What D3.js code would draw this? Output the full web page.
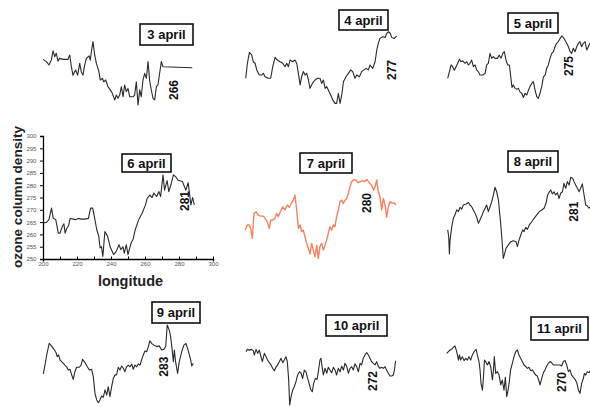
<!DOCTYPE html>
<html><head><meta charset="utf-8">
<script src="https://cdn.jsdelivr.net/npm/d3@7/dist/d3.min.js"></script>
<style>body{margin:0;background:#fff}svg{display:block}</style>
</head><body>
<script>
// ---- data (longitude, ozone column density) ----
const lon3=[200,202.0,203.5,204.9,205.9,206.9,207.8,208.8,209.8,211.8,214.7,215.7,216.7,217.6,219.2,220.4,221.6,222.5,223.5,224.5,225.5,227.1,227.8,228.6,229.4,230.4,231.4,232.9,233.7,234.9,235.7,236.9,238.2,239.6,240.8,242.2,243.1,244.1,245.1,246.1,247.1,248.0,249.0,250.0,251.0,252.9,253.9,254.9,255.9,256.9,257.8,258.8,259.8,260.8,261.8,262.7,263.7,264.7,265.7,266.7,267.6,268.6,269.6,270.6,287.8];
const val3=[269.4,268.5,267.1,269.1,272.9,270.5,271.9,268.7,269.8,269.4,269.4,271.2,266.4,263.0,265.1,263.0,267.8,264.4,263.0,267.1,269.8,270.8,269.1,273.2,276.6,271.2,267.8,264.4,261.0,261.7,260.3,261.0,258.3,257.0,255.6,252.9,254.9,253.6,254.9,258.3,254.2,259.0,256.3,257.6,254.2,254.2,254.9,260.3,250.9,257.0,254.2,261.0,263.7,261.7,268.5,261.0,257.0,253.6,252.9,258.3,259.0,263.7,268.5,266.4,266.0];

const lon4=[200,201.0,202.2,203.5,204.5,205.5,206.5,208.0,209.4,210.4,211.4,213.3,214.7,215.9,217.3,218.6,220.2,221.8,223.1,224.1,225.1,226.1,227.6,229.0,230.0,231.0,232.0,232.9,233.9,234.9,235.9,236.9,237.8,239.2,240.8,242.2,243.7,244.7,245.7,246.7,247.6,248.6,250.0,251.2,252.5,253.5,254.5,255.5,256.5,257.5,259.0,260.4,261.8,262.9,264.3,265.3,266.9,268.2,269.6,270.8,272.2,273.1,274.7,276.1,277.1,278.0,279.0,280.6,282.0,283.0,284.0,285.0,285.9,287.5,288.8];
const val4=[260.1,266.2,270.6,269.6,266.8,266.2,263.5,261.4,261.4,262.1,260.7,260.1,260.1,264.8,268.6,267.5,266.8,266.2,264.8,266.2,264.8,267.5,266.8,267.5,266.2,262.1,257.4,260.7,262.8,261.4,262.1,259.4,256.0,258.0,259.4,260.1,260.1,258.0,259.4,256.0,256.7,255.3,253.3,251.3,249.9,249.9,254.0,249.9,253.3,258.7,260.7,262.1,263.5,262.8,260.1,261.4,260.7,262.8,263.5,264.1,263.5,265.5,264.1,266.8,271.6,274.3,276.3,277.0,276.7,278.4,279.0,278.4,276.7,276.3,277.3];

const lon5=[200,201.0,202.0,202.9,203.9,204.9,205.9,206.9,207.8,208.8,210.2,211.2,212.2,213.1,214.1,215.1,216.1,217.1,218.0,219.0,220.6,222.0,222.9,223.9,224.9,225.9,226.9,227.8,229.2,230.4,231.4,232.4,233.3,234.3,235.3,236.3,237.1,237.8,238.6,239.6,240.6,241.6,242.5,243.5,244.5,245.5,246.5,247.5,248.4,249.4,250.4,251.4,252.4,253.3,254.3,255.3,256.3,257.3,258.2,259.2,260.2,261.2,262.2,263.1,264.1,265.1,266.1,267.1,268.0,269.0,270.0,271.0,272.0,272.9,273.9,274.9,275.9,276.9,277.8,278.8,279.8,280.8,281.8,282.7,283.7,285.7];
const val5=[264.2,266.9,269.6,268.9,267.5,268.9,270.3,271.9,270.9,271.3,270.3,270.9,269.6,270.3,271.6,268.9,269.6,267.5,266.9,265.5,265.5,266.2,269.6,270.3,274.3,272.3,273.0,272.3,272.3,273.6,272.3,274.3,275.0,271.6,269.6,269.6,264.8,260.5,261.5,260.1,259.7,260.1,258.7,258.1,256.4,258.1,257.4,259.4,260.8,262.1,262.8,259.4,256.7,256.0,258.1,260.8,264.8,265.5,268.2,269.6,272.3,274.3,275.0,277.0,278.4,279.1,280.4,281.4,280.8,279.7,278.4,277.0,275.0,274.3,276.4,275.0,277.0,278.4,279.1,277.0,278.4,279.1,275.7,277.0,278.4,277.7];

const lon6=[200,202,203.5,205,206,207.5,209,210,211.5,212.3,213,214,215,216,217.8,219,220.7,222.6,224.6,226.7,228,229.2,230.2,231.6,232.8,233.6,234.4,235.2,236.4,238,239.5,241.5,243,244.7,245.8,247,247.8,249,250,251.8,253,254.3,256.3,258.3,260.3,261.3,262.8,264.2,265.2,266.8,268.2,269.2,270.6,271.5,273,274,275.5,276.7,278,279.5,282,284,285.4,287,288,289];
const val6=[264.6,264.9,266,270.7,266.6,266,260.5,260.5,263.5,264.3,260.5,262.5,263.5,266.5,266.2,266,266.5,266.2,266.2,266.5,270.7,270.7,267.3,262,259.2,254.5,255,251,261.2,259.2,255,251.8,253,255.8,253.8,255,252.4,255.8,251.8,256.5,258,262,266,268.6,272,274.7,276,275,276.8,275.4,277.4,275.4,284.2,278,281.9,277.4,280.8,284.2,283.5,282,281.5,278,281,272,275,272];

const lon7=[200,201.4,202.5,203.3,204.3,205.3,206.5,207.8,209.2,210.8,211.8,213.1,214.3,215.1,216.3,217.6,218.6,219.6,220.6,222.2,223.5,224.9,226.1,227.5,228.4,229.4,230.4,231.4,232.4,233.3,234.3,235.3,236.3,237.3,238.2,239.2,240.2,241.2,242.2,243.1,244.1,245.1,246.1,247.1,248.0,249.0,250.0,251.0,252.0,252.9,253.9,254.9,255.9,256.9,257.8,258.8,259.8,260.8,261.8,262.7,263.7,265.3,266.3,267.6,269.2,270.6,271.6,273.1,274.5,275.5,276.5,277.5,278.4,279.4,280.4,281.4,282.4,283.3,284.3,285.3,286.7,287.6,288.8];
const val7=[259.9,262.0,262.0,260.6,256.6,266.7,267.4,266.0,265.6,265.6,264.7,263.3,260.6,264.0,264.0,264.7,266.7,265.4,267.0,269.4,268.1,270.1,269.2,271.1,272.1,274.2,268.1,260.6,262.0,259.3,259.9,257.2,254.5,252.5,250.2,254.5,251.8,249.1,253.8,248.4,253.2,254.5,251.8,253.8,255.9,258.6,261.3,259.9,262.0,261.3,265.4,268.1,271.5,272.1,270.8,272.1,272.8,274.9,277.6,279.6,280.3,280.3,279.2,279.6,280.0,279.6,280.5,279.2,278.2,276.2,277.5,280.3,275.5,273.5,268.1,272.8,270.1,265.1,269.4,271.5,270.8,271.0,270.1];

const lon8=[200,200.6,201.0,201.4,202.4,203.3,204.3,205.3,206.3,207.3,208.2,209.2,210.8,212.2,213.1,214.1,215.1,216.1,217.1,218.0,219.0,220.0,221.0,222.0,222.9,223.9,224.9,225.9,226.9,227.8,228.8,229.8,230.8,231.8,232.7,233.3,234.3,235.7,237.1,238.6,240.2,241.0,242.0,243.0,244.1,244.9,245.9,246.9,248.0,249.4,250.8,252.4,253.9,255.3,256.7,257.8,258.8,259.8,260.6,261.6,262.5,263.5,264.5,265.5,266.5,267.5,268.4,269.4,270.4,271.4,272.4,273.5,274.3,275.3,276.3,277.3,278.2,279.2,280.2,281.2,282.2,283.1,284.1];
const val8=[261.4,258.6,251.6,257.3,262.7,266.1,267.5,269.5,268.8,270.6,269.8,271.5,271.9,272.5,271.5,270.8,269.5,268.1,266.5,264.1,265.4,267.0,268.8,270.2,271.5,268.8,270.8,272.9,275.6,278.7,276.9,273.6,266.8,258.6,249.8,251.2,253.9,255.3,256.6,257.0,256.6,254.6,257.3,259.3,261.4,260.7,262.4,261.6,263.4,264.7,266.1,267.5,268.8,269.5,270.2,272.2,275.6,276.9,277.6,276.0,276.9,275.6,276.5,274.2,276.3,276.9,280.3,278.3,281.0,279.6,282.8,282.4,281.0,279.6,278.3,276.9,278.3,280.1,275.6,271.5,271.1,270.2,270.8];

const lon9=[200,201.0,202.0,203.5,204.9,206.3,207.5,208.2,209.0,209.8,210.8,211.8,212.7,213.7,214.7,215.7,216.7,217.6,218.6,219.6,221.2,222.2,223.1,224.5,225.9,227.1,228.4,229.4,230.4,231.4,232.4,233.3,234.3,235.3,236.3,237.3,238.2,239.2,240.2,241.2,242.2,243.1,244.1,245.1,246.1,247.1,248.0,249.0,250.0,251.0,252.0,252.9,253.9,254.9,255.9,256.9,257.8,258.8,259.8,260.8,261.8,262.7,263.7,265.1,266.7,268.2,269.6,271.0,272.0,272.9,274.1,274.9,275.7,276.5,277.1,277.8,279.0,280.0,281.4,282.7,283.9,284.9,285.9,286.7,287.3,288.2];
const val9=[272.6,276.2,280.3,285.0,283.9,282.6,281.2,279.6,280.3,278.3,277.6,276.9,276.2,275.5,274.2,274.5,272.2,270.4,273.5,275.3,275.3,276.2,278.5,277.2,275.5,274.2,274.5,271.5,264.7,262.0,260.9,262.0,263.6,263.1,266.1,264.0,267.4,263.3,267.4,270.8,272.2,272.2,275.3,274.2,275.8,274.9,273.5,275.5,276.2,275.5,276.6,274.5,276.2,275.5,276.6,276.2,278.3,280.3,281.9,281.6,283.7,286.1,285.0,284.3,283.7,284.0,282.3,282.6,283.7,292.5,290.4,287.7,283.0,277.6,282.3,277.6,272.8,277.6,281.6,284.3,285.0,283.0,280.3,278.3,275.8,276.9];

const lon10=[200,200.8,202.0,203.3,204.3,204.9,205.9,206.9,207.8,208.8,209.6,210.8,211.8,212.7,213.7,214.7,215.7,216.7,217.6,218.6,219.6,220.6,221.6,222.5,223.5,224.3,225.1,225.7,226.5,227.5,228.4,229.4,230.4,231.4,232.4,233.3,234.3,235.3,236.1,237.1,238.0,239.0,239.8,240.8,241.8,242.7,243.5,244.1,244.9,245.5,246.5,247.5,248.4,249.4,250.4,251.4,252.4,253.3,254.3,255.3,256.3,257.3,258.2,259.2,260.2,261.2,262.2,263.1,264.1,265.1,266.1,267.1,268.0,269.0,270.0,271.0,272.0,272.9,273.9,274.9,275.9,276.9,277.8,278.8,279.8,280.8,281.8,282.7,283.7,284.7,285.7,286.7,287.3,288.0];
const val10=[276.1,277.0,276.7,277.0,276.5,274.7,277.0,275.4,276.7,274.0,272.0,275.4,274.0,272.7,271.6,270.7,269.3,268.3,269.7,270.7,272.0,273.4,271.6,272.7,274.0,272.0,264.6,254.4,257.8,260.5,261.8,263.9,266.6,267.9,267.3,265.2,268.6,267.9,265.6,263.2,260.8,259.8,263.2,265.2,264.8,268.6,272.7,273.4,269.3,266.6,269.3,267.3,269.7,268.6,267.5,269.7,268.6,266.6,269.3,267.9,270.2,268.6,271.3,270.2,267.3,269.3,270.0,268.6,271.1,270.0,267.9,271.3,270.7,273.4,274.7,275.7,274.7,273.4,272.0,271.3,270.7,272.0,270.2,269.3,269.7,269.3,270.0,268.6,267.3,266.2,266.2,266.6,268.6,272.4];

const lon11=[200,201.0,202.0,202.9,203.9,204.9,205.9,206.9,207.5,208.2,209.2,210.2,211.2,212.2,213.1,214.1,215.1,216.1,217.3,218.0,219.0,219.6,220.2,221.0,221.6,222.2,222.9,223.9,224.9,225.9,226.9,227.5,228.0,228.8,229.8,230.8,231.8,232.7,233.7,234.5,235.3,236.1,236.7,237.6,238.6,239.6,240.6,241.6,242.5,243.5,244.5,245.5,246.5,247.5,248.4,249.4,250.4,251.4,252.4,253.3,254.1,254.9,255.9,256.9,257.8,258.8,259.8,260.8,261.8,262.7,264.7,266.7,267.6,268.6,269.6,270.6,271.6,272.5,273.5,274.5,275.5,276.5,277.5,278.4,279.4,280.4,281.0,281.8,282.7,283.7,284.7];
const val11=[274.7,275.4,276.1,276.4,277.2,277.7,275.4,272.0,274.1,272.0,273.4,271.8,272.7,272.0,273.4,272.0,274.1,275.4,276.4,274.1,271.4,268.0,262.5,259.8,264.6,272.0,271.4,270.0,271.4,269.3,263.9,268.0,273.4,266.6,267.3,265.9,261.9,263.9,259.8,265.0,257.1,259.8,262.5,268.0,270.7,273.4,275.4,276.1,274.1,272.7,271.4,270.0,269.3,268.6,269.1,267.7,268.0,266.9,265.9,265.5,263.9,261.9,264.6,266.9,268.0,269.6,270.7,271.4,270.9,270.0,270.0,270.0,269.6,271.4,271.8,270.0,267.3,268.0,265.9,265.0,264.2,262.8,259.8,258.5,262.5,264.6,266.6,265.9,267.3,266.9,268.0];

const xTicks=[200,220,240,260,280,300];
const yTicks=[250,255,260,265,270,275,280,285,290,295,300];

// ---- layout (positions, sizes, styles) ----
const W=590,H=407, PW=170, PH=123;
const panels=[
 {t:"3 april", lon:lon3, val:val3, ox:43,   oy:107.1, box:[140,24,53,21],  num:"266", nx:174,   ny:90},
 {t:"4 april", lon:lon4, val:val4, ox:245.7,oy:103.1, box:[339,10,49,20],  num:"277", nx:391.5, ny:70},
 {t:"5 april", lon:lon5, val:val5, ox:447.7,oy:113.2, box:[508,13,50,20],  num:"275", nx:568.5, ny:66},
 {t:"6 april", lon:lon6, val:val6, ox:43,   oy:259,   box:[122,154,49,18], num:"281", nx:185,   ny:201, axes:true},
 {t:"7 april", lon:lon7, val:val7, ox:245,  oy:254.5, box:[300,153,52,20], num:"280", nx:366.7, ny:203, color:"#f4825f"},
 {t:"8 april", lon:lon8, val:val8, ox:447.7,oy:257.9, box:[508,151,50,21], num:"281", nx:574,   ny:211.7},
 {t:"9 april", lon:lon9, val:val9, ox:43.3, oy:429.5, box:[152,302,48,21], num:"283", nx:164,   ny:366.7},
 {t:"10 april",lon:lon10,val:val10,ox:246,  oy:415.8, box:[326,315,61,21], num:"272", nx:372.5, ny:381},
 {t:"11 april",lon:lon11,val:val11,ox:446.7,oy:414.2, box:[531,317,57,23], num:"270", nx:561.7, ny:382}
];

const svg=d3.select("body").append("svg").attr("width",W).attr("height",H);
const x=d3.scaleLinear().domain([200,300]).range([0,PW]);
const y=d3.scaleLinear().domain([250,300]).range([PH,0]);
const line=d3.line().x((d,i,a)=>x(d[0])).y(d=>y(d[1]));

panels.forEach(p=>{
  const g=svg.append("g").attr("transform",`translate(${p.ox},${p.oy-PH})`);
  if(p.axes){
    const ax=g.append("g").attr("transform",`translate(0,${PH})`)
      .call(d3.axisBottom(x).tickValues(d3.range(200,301,10)).tickSize(2.5).tickFormat(d=>xTicks.includes(d)?d:""));
    const ay=g.append("g").call(d3.axisLeft(y).tickValues(yTicks).tickSize(3));
    [ax,ay].forEach(a=>{
      a.select(".domain").attr("stroke","#000").attr("stroke-width",1.3);
      a.selectAll(".tick line").attr("stroke","#000").attr("stroke-width",1);
      a.selectAll(".tick text").attr("font-family","Liberation Sans, Arial, sans-serif").attr("font-size",6).attr("fill","#555");
    });
    ax.selectAll(".tick line").attr("y2",-2.5);
    ax.selectAll(".tick text").attr("dy","0.3em");
    ay.selectAll(".tick text").attr("dx","-0.1em");
  }
  g.append("path").datum(p.lon.map((l,i)=>[l,p.val[i]]))
    .attr("d",line).attr("fill","none")
    .attr("stroke",p.color||"#2a2a2a").attr("stroke-width",p.color?1.4:1.1)
    .attr("stroke-linejoin","round");
  const [bx,by,bw,bh]=p.box;
  svg.append("rect").attr("x",bx).attr("y",by).attr("width",bw).attr("height",bh)
    .attr("fill","#fff").attr("stroke","#111").attr("stroke-width",1.6);
  svg.append("text").attr("x",bx+bw/2).attr("y",by+bh/2).attr("dy","0.36em")
    .attr("text-anchor","middle").attr("font-family","Liberation Sans, Arial, sans-serif")
    .attr("font-weight","bold").attr("font-size",13).attr("fill","#111").text(p.t);
  svg.append("text").attr("transform",`translate(${p.nx},${p.ny}) rotate(-90)`)
    .attr("text-anchor","middle").attr("dy","0.36em")
    .attr("font-family","Liberation Sans, Arial, sans-serif").attr("font-weight","bold")
    .attr("font-size",12).attr("fill","#111").text(p.num);
});

svg.append("text").attr("transform","translate(17,197) rotate(-90)")
  .attr("text-anchor","middle").attr("dy","0.36em")
  .attr("font-family","Liberation Sans, Arial, sans-serif").attr("font-weight","bold")
  .attr("font-size",13.5).attr("fill","#222").text("ozone column density");
svg.append("text").attr("x",130.5).attr("y",286)
  .attr("text-anchor","middle")
  .attr("font-family","Liberation Sans, Arial, sans-serif").attr("font-weight","bold")
  .attr("font-size",14.5).attr("fill","#222").text("longitude");
</script>
</body></html>
